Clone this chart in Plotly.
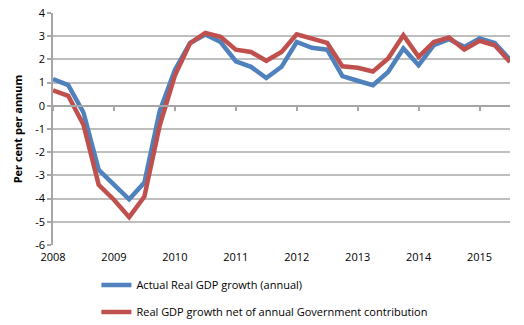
import plotly.graph_objects as go

# Quarterly observations, March quarter 2008 to September quarter 2015
quarters = [f"{y}Q{q}" for y in range(2008, 2016) for q in range(1, 5)][:31]

actual_growth = [1.15, 0.89, -0.29, -2.76, -3.40, -4.03, -3.31, -0.24,
                 1.55, 2.71, 3.07, 2.75, 1.92, 1.68, 1.20, 1.68,
                 2.75, 2.50, 2.42, 1.28, 1.08, 0.89, 1.46, 2.47,
                 1.75, 2.61, 2.87, 2.54, 2.90, 2.71, 1.99]

net_of_govt = [0.66, 0.43, -0.82, -3.41, -4.05, -4.80, -3.91, -0.86,
               1.30, 2.70, 3.14, 2.97, 2.42, 2.32, 1.94, 2.32,
               3.08, 2.90, 2.71, 1.70, 1.64, 1.48, 2.04, 3.04,
               2.11, 2.75, 2.94, 2.42, 2.80, 2.61, 1.89]

year_ticks = [q for q in quarters if q.endswith("Q1")]
year_labels = [q[:4] for q in year_ticks]
y_ticks = list(range(-6, 5))
y_labels = [str(v) for v in y_ticks]

series_names = ["Actual Real GDP growth (annual)",
                "Real GDP growth net of annual Government contribution"]
series_colors = ["#4F81BD", "#C0504D"]

font_family = "Open Sans, Noto Sans, sans-serif"

fig = go.Figure()
for i, (name, values, colour) in enumerate(zip(series_names,
                                                [actual_growth, net_of_govt],
                                                series_colors)):
    fig.add_trace(go.Scatter(
        x=quarters, y=values, mode="lines", name=name,
        line=dict(color=colour, width=4.5),
        legendgroup=f"g{i}",
    ))

# Horizontal category axis drawn across the zero line, with year tick marks
fig.add_trace(go.Scatter(x=quarters, y=[None] * len(quarters), xaxis="x2",
                         showlegend=False, hoverinfo="skip"))

y_min, y_max = y_ticks[0], y_ticks[-1]
zero_pos = (0 - y_min) / (y_max - y_min)

fig.update_layout(
    width=524, height=325,
    margin=dict(l=53, r=14, t=13, b=80, autoexpand=False),
    paper_bgcolor="white", plot_bgcolor="white",
    font=dict(family=font_family, size=11, color="#000000"),
    xaxis=dict(
        type="category", categoryorder="array", categoryarray=quarters,
        range=[0, len(quarters) - 1],
        tickvals=year_ticks, ticktext=year_labels,
        showgrid=False, showline=False, zeroline=False, ticks="",
        tickfont=dict(size=11), ticklabelstandoff=4,
    ),
    xaxis2=dict(
        type="category", categoryorder="array", categoryarray=quarters,
        range=[0, len(quarters) - 1], overlaying="x",
        anchor="free", position=zero_pos, side="bottom",
        tickvals=year_ticks, showticklabels=False,
        showgrid=False, zeroline=False,
        showline=True, linecolor="#A6A6A6", linewidth=1.5,
        ticks="outside", ticklen=4, tickcolor="#A6A6A6", tickwidth=1.5,
    ),
    yaxis=dict(
        range=[y_min, y_max], tickvals=y_ticks, ticktext=y_labels,
        showgrid=True, gridcolor="#BEBEBE", gridwidth=1.5,
        zeroline=False,
        showline=True, linecolor="#A6A6A6", linewidth=1.5,
        ticks="outside", ticklen=4, tickcolor="#A6A6A6", tickwidth=1.5,
        tickfont=dict(size=11),
        title=dict(text="<b>Per cent per annum</b>", font=dict(size=11),
                   standoff=10),
    ),
    legend=dict(
        orientation="v", x=0.095, xanchor="left", y=-0.11, yanchor="top",
        font=dict(size=11), tracegroupgap=8, itemwidth=30,
        bgcolor="rgba(0,0,0,0)",
    ),
    showlegend=True,
)

fig.write_html("out.html")
